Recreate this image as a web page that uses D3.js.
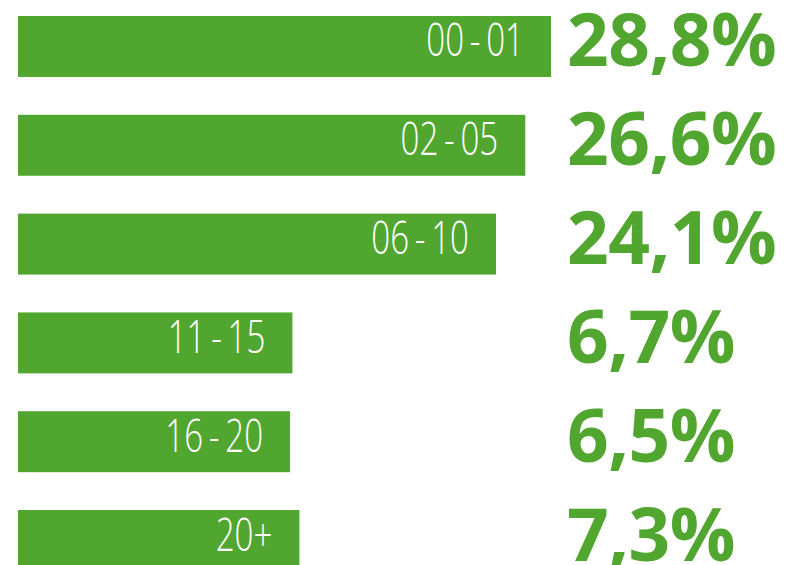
<!DOCTYPE html>
<html>
<head>
<meta charset="utf-8">
<script src="https://cdn.jsdelivr.net/npm/d3@7"></script>
<style>
  body { margin: 0; background: #fff; }
  svg { display: block; }
</style>
</head>
<body>
<svg></svg>
<script>
// age groups and their share
const categories = ['00 - 01', '02 - 05', '06 - 10', '11 - 15', '16 - 20', '20+'];
const values = [28.8, 26.6, 24.1, 6.7, 6.5, 7.3];

const width = 786;
const height = 565;
const green = '#51a62f';
const left = 18;

const data = categories.map((c, i) => ({ cat: c, value: values[i] }));

// bars start from a base length so the short labels still fit inside
const xScale = d3.scaleLinear()
                 .domain([0, d3.max(values)])
                 .range([196, 533]);

const yScale = d3.scaleBand()
                 .domain(categories)
                 .range([16, 571])
                 .paddingInner(0.383)
                 .paddingOuter(0);

const fmt = (v) => d3.format('.1f')(v).replace('.', ',') + '%';

const svg = d3.select('svg')
              .attr('width', width)
              .attr('height', height);

const rows = svg
  .selectAll('g.row')
  .data(data)
  .enter()
  .append('g')
    .classed('row', true)
    .attr('transform', (d) => `translate(0, ${yScale(d.cat)})`);

rows
  .append('rect')
    .attr('x', left)
    .attr('y', 0)
    .attr('width', (d) => xScale(d.value))
    .attr('height', yScale.bandwidth())
    .attr('fill', green);

rows
  .append('text')
    .text((d) => d.cat)
    .attr('transform', (d) => `translate(${left + xScale(d.value) - 27}, ${yScale.bandwidth() / 2 + 10}) scale(0.72, 1)`)
    .attr('text-anchor', 'end')
    .attr('fill', '#fff')
    .style('font-family', '"Open Sans", sans-serif')
    .style('font-weight', 300)
    .style('font-size', '46px')
    .style('word-spacing', '-4px');

rows
  .append('text')
    .text((d) => fmt(d.value))
    .attr('x', 567)
    .attr('y', yScale.bandwidth() / 2 + 20)
    .attr('fill', green)
    .style('font-family', '"Open Sans", sans-serif')
    .style('font-weight', 700)
    .style('font-size', '73px')
    .style('letter-spacing', '-0.5px');
</script>
</body>
</html>
